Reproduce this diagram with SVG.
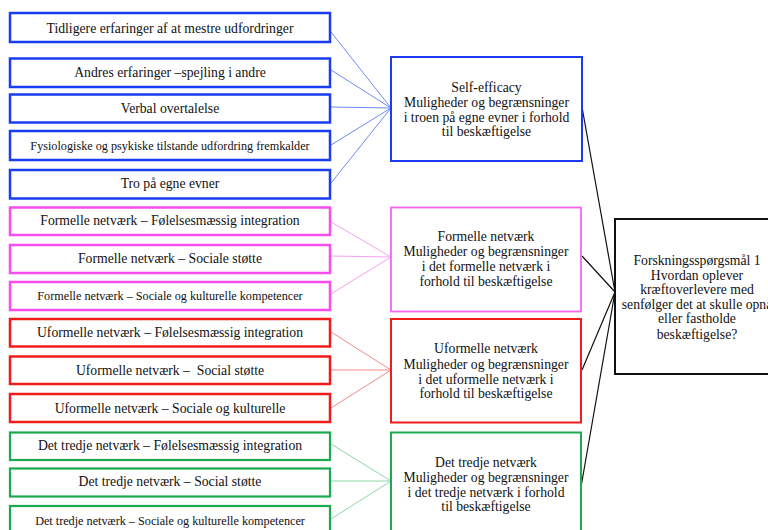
<svg xmlns="http://www.w3.org/2000/svg" width="768" height="530" viewBox="0 0 768 530">
<style>
text{font-family:"Liberation Serif","Times New Roman",serif;font-size:13.7px;fill:#111;text-anchor:middle}
.sm{font-size:12.2px}
.b{fill:#fff;stroke:#1a3cf2;stroke-width:2.5}
.p{fill:#fff;stroke:#f64cf0;stroke-width:2.5}
.r{fill:#fff;stroke:#f01c1c;stroke-width:2.5}
.g{fill:#fff;stroke:#1caa50;stroke-width:2.2}
.bm{fill:#fff;stroke:#1a3cf2;stroke-width:2}
.pm{fill:#fff;stroke:#f864f0;stroke-width:1.8}
.rm{fill:#fff;stroke:#f01c1c;stroke-width:2}
.gm{fill:#fff;stroke:#1caa50;stroke-width:2}
.q{fill:#fff;stroke:#111;stroke-width:2}
.lb{stroke:#6f8af5;stroke-width:1;fill:none}
.lp{stroke:#f7a0f0;stroke-width:1;fill:none}
.lr{stroke:#f68a8a;stroke-width:1;fill:none}
.lg{stroke:#8cd6a6;stroke-width:1;fill:none}
.lk{stroke:#111;stroke-width:1.2;fill:none}
</style>
<g id="connectors">
<path class="lb" d="M331 32L391 108M331 70L391 108M331 107L391 108M331 145L391 108M331 183L391 108"/>
<path class="lp" d="M331 222L391 257M331 256L391 257M331 294L391 257"/>
<path class="lr" d="M331 332L391 370M331 370L391 370M331 408L391 370"/>
<path class="lg" d="M331 444L391 481M331 481L391 481M331 519L391 481"/>
<path class="lk" d="M582 107L615 292M582 256L615 292M582 370L615 292M581 487L615 292"/>
</g>
<g id="n1"><rect class="b" x="10" y="13" width="320" height="29"/><text x="170" y="32.5">Tidligere erfaringer af at mestre udfordringer</text></g>
<g id="n2"><rect class="b" x="10" y="58.5" width="320" height="28.5"/><text x="170" y="77">Andres erfaringer –spejling i andre</text></g>
<g id="n3"><rect class="b" x="10" y="94.5" width="320" height="28"/><text x="170" y="113">Verbal overtalelse</text></g>
<g id="n4"><rect class="b" x="10" y="131" width="320" height="29"/><text class="sm" x="170" y="149.5">Fysiologiske og psykiske tilstande udfordring fremkalder</text></g>
<g id="n5"><rect class="b" x="10" y="170" width="320" height="28.5"/><text x="170" y="188">Tro på egne evner</text></g>
<g id="n6"><rect class="p" x="10" y="207.5" width="320" height="27.5"/><text x="170" y="224.5">Formelle netværk – Følelsesmæssig integration</text></g>
<g id="n7"><rect class="p" x="10" y="245" width="320" height="28"/><text x="170" y="263">Formelle netværk – Sociale støtte</text></g>
<g id="n8"><rect class="p" x="10" y="282" width="320" height="28"/><text class="sm" x="170" y="299.5">Formelle netværk – Sociale og kulturelle kompetencer</text></g>
<g id="n9"><rect class="r" x="10" y="319" width="320" height="27.5"/><text x="170" y="337">Uformelle netværk – Følelsesmæssig integration</text></g>
<g id="n10"><rect class="r" x="10" y="356.5" width="320" height="27.5"/><text x="170" y="374.5" xml:space="preserve">Uformelle netværk –  Social støtte</text></g>
<g id="n11"><rect class="r" x="10" y="394" width="320" height="28"/><text x="170" y="412.5">Uformelle netværk – Sociale og kulturelle</text></g>
<g id="n12"><rect class="g" x="10" y="432.5" width="320" height="27.5"/><text x="170" y="449.5">Det tredje netværk – Følelsesmæssig integration</text></g>
<g id="n13"><rect class="g" x="10" y="468.5" width="320" height="28"/><text x="170" y="486">Det tredje netværk – Social støtte</text></g>
<g id="n14"><rect class="g" x="10" y="506" width="320" height="34"/><text class="sm" x="170" y="524.5">Det tredje netværk – Sociale og kulturelle kompetencer</text></g>
<g id="m1"><rect class="bm" x="391" y="57" width="191" height="104"/>
<text x="486.5" y="91.5">Self-efficacy</text><text x="486.5" y="106.5">Muligheder og begrænsninger</text><text x="486.5" y="121.5">i troen på egne evner i forhold</text><text x="486.5" y="135.5">til beskæftigelse</text></g>
<g id="m2"><rect class="pm" x="391" y="207.5" width="190" height="104"/>
<text x="486" y="241">Formelle netværk</text><text x="486" y="256">Muligheder og begrænsninger</text><text x="486" y="271">i det formelle netværk i</text><text x="486" y="285.5">forhold til beskæftigelse</text></g>
<g id="m3"><rect class="rm" x="391" y="319" width="190" height="103.5"/>
<text x="486" y="353">Uformelle netværk</text><text x="486" y="368.5">Muligheder og begrænsninger</text><text x="486" y="383.5">i det uformelle netværk i</text><text x="486" y="398">forhold til beskæftigelse</text></g>
<g id="m4"><rect class="gm" x="391" y="432.5" width="190" height="110"/>
<text x="486" y="466.5">Det tredje netværk</text><text x="486" y="481.5">Muligheder og begrænsninger</text><text x="486" y="496.5">i det tredje netværk i forhold</text><text x="486" y="511">til beskæftigelse</text></g>
<g id="q"><rect class="q" x="615" y="219" width="170" height="155"/>
<text x="697" y="264.5">Forskningsspørgsmål 1</text><text x="697" y="279.5">Hvordan oplever</text><text x="697" y="294">kræftoverlevere med</text><text x="697" y="308.5">senfølger det at skulle opnå</text><text x="697" y="323">eller fastholde</text><text x="697" y="338.5">beskæftigelse?</text></g>
</svg>
